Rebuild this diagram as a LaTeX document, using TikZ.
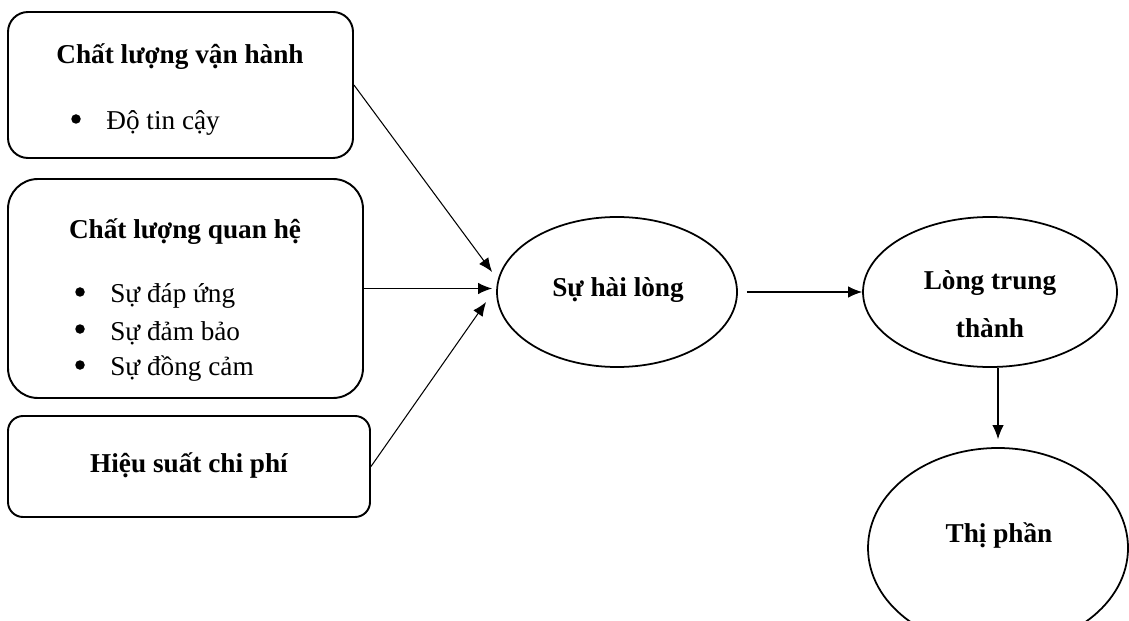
\documentclass[tikz,border=0pt]{standalone}
\usepackage{fontspec}
\setmainfont{Liberation Serif}
\usetikzlibrary{positioning,arrows.meta,calc}
\usetikzlibrary{shapes.geometric}
\tikzset{box/.style={draw, line width=1.1pt, inner sep=0pt},
    oval/.style={draw, ellipse, line width=1pt, inner sep=0pt},
    head/.style={font=\fontsize{15.5}{18}\selectfont\bfseries, inner sep=0pt},
    item/.style={anchor=west, inner sep=0pt, font=\fontsize{15.5}{18}\selectfont},
    link/.style={->, line width=0.6pt}
}

\begin{document}
\begin{tikzpicture}[>={Latex[length=8pt,width=6.5pt]}]
		\useasboundingbox (0,0) rectangle (22.58,-12.42);

		% left boxes
		\node[box,rounded corners=0.4cm,minimum width=6.9cm,minimum height=2.92cm] (B1) at (3.61,-1.70) {};
		\node[box,rounded corners=0.6cm,minimum width=7.1cm,minimum height=4.38cm] (B2) at (3.71,-5.77) {};
		\node[box,rounded corners=0.3cm,minimum width=7.24cm,minimum height=2.02cm] (B3) at (3.78,-9.33) {};

		\node[head] (B1t) at (3.6,-1.14) {Chất lượng vận hành};
		\node[item] (B1a) at (2.12,-2.46) {Độ tin cậy};

		\node[head] (B2t) at (3.7,-4.64) {Chất lượng quan hệ};
		\node[item] (B2a) at (2.20,-5.92) {Sự đáp ứng};
		\node[item] (B2b) at (2.20,-6.66) {Sự đảm bảo};
		\node[item] (B2c) at (2.20,-7.38) {Sự đồng cảm};

		% bullets
		\foreach \n in {B1a,B2a,B2b,B2c}
			\fill ($(\n.west)+(-0.6,0.08)$) circle (0.095);

		\node[head] (B3t) at (3.78,-9.30) {Hiệu suất chi phí};

		% ellipses
		\node[oval,minimum width=4.8cm,minimum height=3.0cm] (E1) at (12.34,-5.84) {};
		\node[oval,minimum width=5.08cm,minimum height=3.0cm] (E2) at (19.8,-5.84) {};
		\node[oval,minimum width=5.2cm,minimum height=4.0cm] (E3) at (19.96,-10.96) {};

		\node[head] (E1t) at (12.36,-5.80) {Sự hài lòng};
		\node[head,align=center,font=\fontsize{15.5}{27.3}\selectfont\bfseries] (E2t) at (19.8,-6.08) {Lòng trung\\thành};
		\node[head] (E3t) at (19.98,-10.70) {Thị phần};

		\draw [link] (B1.east) -- ($(E1.west)+(-0.08,0.4)$);
		\draw [link,shorten >=0.08cm] (B2.east) -- (B2.east -| E1.west);
		\draw [link] (B3.east) -- ($(E1.west)+(-0.2,-0.2)$);
		\draw [link,shorten <=0.18cm] (E1.east) -- (E2.west);
		\draw [link,shorten >=0.16cm] (E2.south -| E3.north) -- (E3.north);
	\end{tikzpicture}
\end{document}
